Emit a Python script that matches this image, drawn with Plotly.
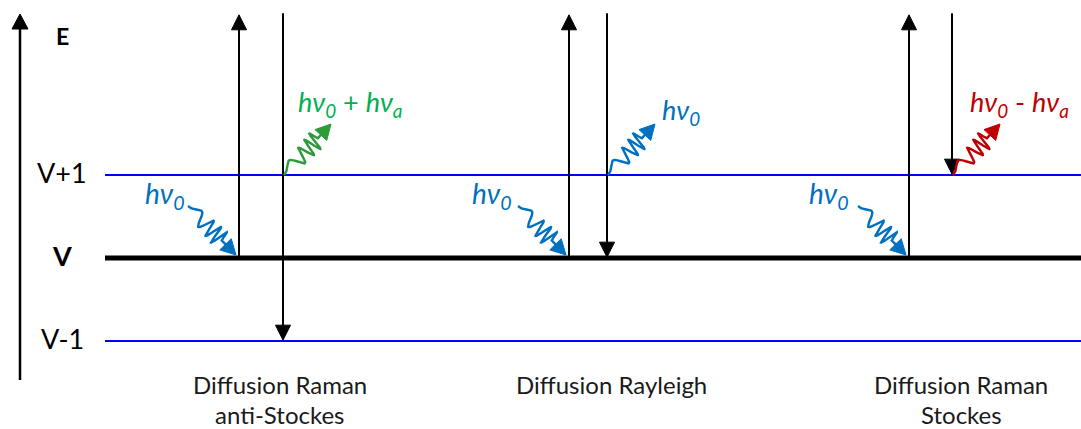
import numpy as np
import plotly.graph_objects as go

W, H = 1081, 429
Y0PX, KY = 258.0, 83.0           # pixel row of level V, pixels per energy unit
FONT = "Lato"

# energy levels
level_names = ["V+1", "V", "V-1"]
level_E = [1, 0, -1]
level_colors = ["#0000FF", "#000000", "#0000FF"]
level_widths = [2, 5, 2]
level_x = [105, 1081]
virtual_E = 2.93

# processes
proc_line1 = ["Diffusion Raman", "Diffusion Rayleigh", "Diffusion Raman"]
proc_line2 = ["anti-Stockes", "", "Stockes"]
proc_center = [280, 611, 961]
up_x = [239, 569, 909]
down_x = [283, 607, 952]
down_end_E = [-1, 0, 1]
emit_colors = ["#2E9B3A", "#0070C0", "#C00000"]
emit_text_colors = ["#00B050", "#0070C0", "#C00000"]
emit_labels = ["<i>hν<sub>0</sub></i> + <i>hν<sub>a</sub></i>",
               "<i>hν<sub>0</sub></i>",
               "<i>hν<sub>0</sub></i> - <i>hν<sub>a</sub></i>"]
emit_label_x = [350, 681, 1019]
emit_label_E = [1.86, 1.77, 1.86]
inc_label_x = [165, 492, 829]
inc_label_E = [0.76, 0.76, 0.76]
INC_COLOR = "#0070C0"


def E_of(px):
    return (Y0PX - px) / KY


def px_of(E):
    return Y0PX - E * KY


fig = go.Figure()


def add_line(x, E, color, width):
    fig.add_trace(go.Scatter(x=x, y=E, mode="lines", hoverinfo="skip",
                             line=dict(color=color, width=width)))


def add_head(xtip, Etip, ux, uy, length, half, color):
    ytip = px_of(Etip)
    bx, by = xtip - ux * length, ytip - uy * length
    nx, ny = -uy, ux
    xs = [xtip, bx + nx * half, bx - nx * half, xtip]
    ys = [ytip, by + ny * half, by - ny * half, ytip]
    fig.add_trace(go.Scatter(x=xs, y=[E_of(v) for v in ys], mode="lines",
                             fill="toself", fillcolor=color, hoverinfo="skip",
                             line=dict(color=color, width=1)))


def add_photon(x0, E0, x1, E1, color, cycles=3.5, amp=10.0, head_len=15, half=8,
               stem=8, chirp=2.0):
    y0, y1 = px_of(E0), px_of(E1)
    dx, dy = x1 - x0, y1 - y0
    L = np.hypot(dx, dy)
    ux, uy = dx / L, dy / L
    nx, ny = -uy, ux
    s_end = L - head_len + 2
    sw = s_end - stem
    s = np.linspace(0, s_end, 500)
    u = np.clip(s / sw, 0, 1)
    phi = 2 * np.pi * cycles * u ** chirp
    env = amp * (0.3 + 0.7 * np.sqrt(u)) * np.where(s < sw, 1.0, 0.0)
    off = -env * np.sin(phi)
    xs = x0 + ux * s + nx * off
    ys = y0 + uy * s + ny * off
    add_line(xs, E_of(ys), color, 2.4)
    add_head(x1, E1, ux, uy, head_len, half, color)


# energy axis
add_line([20, 20], [E_of(380), E_of(26)], "#000000", 2.5)
add_head(20, E_of(14), 0, -1, 15, 8, "#000000")

# levels
for E, c, w in zip(level_E, level_colors, level_widths):
    add_line(level_x, [E, E], c, w)

for i in range(3):
    add_line([up_x[i], up_x[i]], [0, virtual_E - 0.15], "#000000", 2)
    add_head(up_x[i], virtual_E, 0, -1, 15, 7.5, "#000000")
    add_line([down_x[i], down_x[i]], [virtual_E + 0.02, down_end_E[i] + 0.15], "#000000", 2)
    add_head(down_x[i], down_end_E[i] + 0.01, 0, 1, 15, 7.5, "#000000")
    add_photon(up_x[i] - 51, E_of(206), up_x[i] - 3, E_of(255), INC_COLOR,
               cycles=3.5, amp=9.5)
    add_photon(down_x[i] + 1, 1, down_x[i] + 48, E_of(124), emit_colors[i],
               cycles=3.5, amp=9.5, stem=7)

annotations = []
for name, E in zip(level_names, level_E):
    annotations.append(dict(x=62, y=E + 0.03, text=("<b>V</b>" if name == "V" else name),
                            showarrow=False, font=dict(size=27, color="#000000", family=FONT)))
annotations.append(dict(x=62, y=E_of(36), text="<b>E</b>", showarrow=False,
                        font=dict(size=23, color="#000000", family=FONT)))
for i in range(3):
    annotations.append(dict(x=inc_label_x[i], y=inc_label_E[i], text="<i>hν<sub>0</sub></i>",
                            showarrow=False, font=dict(size=28, color=INC_COLOR, family=FONT)))
    annotations.append(dict(x=emit_label_x[i], y=emit_label_E[i], text=emit_labels[i],
                            showarrow=False, font=dict(size=27, color=emit_text_colors[i], family=FONT)))
    annotations.append(dict(x=proc_center[i], y=E_of(384), text=proc_line1[i], showarrow=False,
                            font=dict(size=24, color="#1a1a1a", family=FONT)))
    if proc_line2[i]:
        annotations.append(dict(x=proc_center[i], y=E_of(414), text=proc_line2[i], showarrow=False,
                                font=dict(size=24, color="#1a1a1a", family=FONT)))

fig.update_layout(
    width=W, height=H, margin=dict(l=0, r=0, t=0, b=0),
    paper_bgcolor="white", plot_bgcolor="white", showlegend=False,
    xaxis=dict(range=[0, W], visible=False, fixedrange=True),
    yaxis=dict(range=[E_of(H), E_of(0)], visible=False, fixedrange=True),
    annotations=annotations,
)
fig.write_html("out.html", config={"displayModeBar": False, "staticPlot": True},
               post_script="document.body.style.margin='0';document.body.style.overflow='hidden';")
